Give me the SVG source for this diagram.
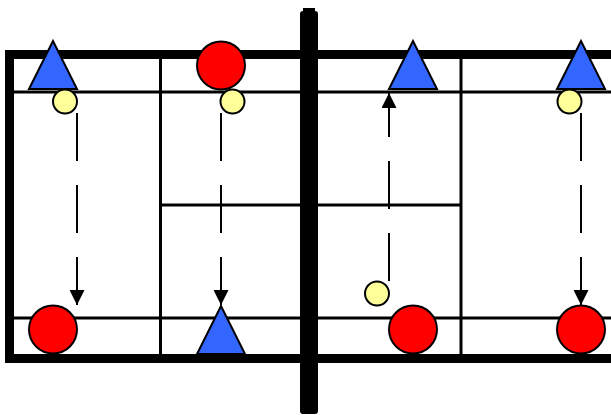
<svg xmlns="http://www.w3.org/2000/svg" width="611" height="415" viewBox="0 0 611 415">
<style>
.frame{fill:none;stroke:#000;stroke-width:9;stroke-linecap:square}
.line{fill:none;stroke:#000;stroke-width:3}
.tri{fill:#3366ff;stroke:#000;stroke-width:2;stroke-linejoin:miter}
.red{fill:#ff0000;stroke:#000;stroke-width:2}
.yel{fill:#ffff99;stroke:#000;stroke-width:2}
.arr{fill:none;stroke:#000;stroke-width:2;stroke-dasharray:48 24;marker-end:url(#ah)}
</style>
<defs>
<marker id="ah" viewBox="0 0 16 15" refX="15" refY="7.5" markerWidth="16" markerHeight="15" markerUnits="userSpaceOnUse" orient="auto">
<path d="M0,0 L15,7.5 L0,15 Z" fill="#000"/>
</marker>
</defs>
<g id="court">
<path class="frame" d="M611,54.5 H9.5 V358.5 H611"/>
<path class="line" d="M14,92 H611 M14,318 H611 M160.5,59 V354 M461,59 V354 M160,205 H461"/>
<path d="M300,14 Q300,11 303,11 V8 H315 V11 Q318,11 318,14 V411 Q318,414 315,414 H303 Q300,414 300,411 Z" fill="#000"/>
</g>
<g id="connectors">
<path class="arr" d="M77,113 V305"/>
<path class="arr" d="M221,113 V305"/>
<path class="arr" d="M389,281 V93"/>
<path class="arr" d="M581,113 V305"/>
</g>
<g id="tri1"><polygon class="tri" points="53,41 29,89 77,89"/></g>
<g id="tri2"><polygon class="tri" points="413,41 389,89 437,89"/></g>
<g id="tri3"><polygon class="tri" points="581,41 557,89 605,89"/></g>
<g id="tri4"><polygon class="tri" points="221,306 197,354 245,354"/></g>
<g id="red1"><circle class="red" cx="221" cy="65.5" r="24"/></g>
<g id="red2"><circle class="red" cx="53" cy="329.5" r="24"/></g>
<g id="red3"><circle class="red" cx="413" cy="329.5" r="24"/></g>
<g id="red4"><circle class="red" cx="581" cy="329.5" r="24"/></g>
<g id="yel1"><circle class="yel" cx="65" cy="101.5" r="12"/></g>
<g id="yel2"><circle class="yel" cx="232.5" cy="101.5" r="12"/></g>
<g id="yel3"><circle class="yel" cx="569.5" cy="101.5" r="12"/></g>
<g id="yel4"><circle class="yel" cx="377" cy="293.5" r="12"/></g>
</svg>
